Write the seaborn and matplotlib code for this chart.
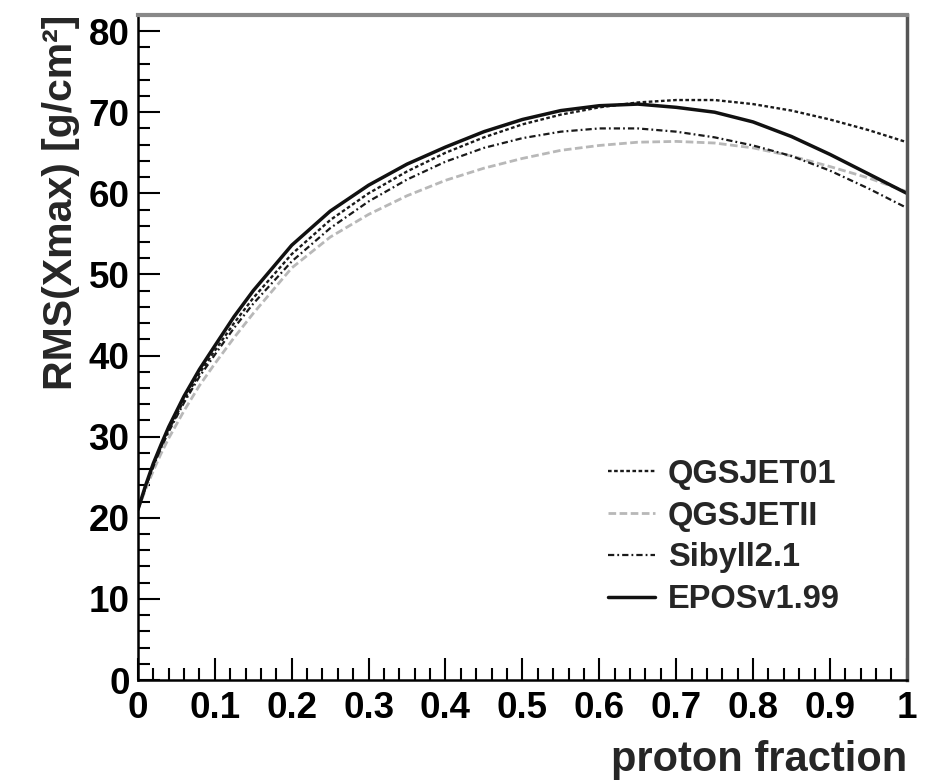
import matplotlib
matplotlib.use("Agg")
import matplotlib.pyplot as plt
import seaborn as sns
import pandas as pd
from matplotlib.ticker import MultipleLocator, FixedLocator
from matplotlib.lines import Line2D

# ---- data ----
proton_fraction = [0, 0.01, 0.02, 0.03, 0.04, 0.06, 0.08, 0.1, 0.125, 0.15, 0.2, 0.25,
                   0.3, 0.35, 0.4, 0.45, 0.5, 0.55, 0.6, 0.65, 0.7, 0.75, 0.8, 0.85,
                   0.9, 0.95, 1.0]
qgsjet01 = [21.0, 23.8, 26.4, 28.7, 30.8, 34.5, 37.8, 40.6, 44.0, 47.1, 52.5, 56.7,
            60.0, 62.7, 65.0, 66.9, 68.5, 69.7, 70.6, 71.2, 71.5, 71.5, 71.0, 70.2,
            69.1, 67.8, 66.3]
qgsjetii = [21.0, 23.5, 25.8, 27.9, 29.8, 33.2, 36.3, 39.0, 42.2, 45.2, 50.8, 54.6,
            57.4, 59.7, 61.6, 63.1, 64.3, 65.3, 65.9, 66.3, 66.4, 66.2, 65.6, 64.6,
            63.3, 61.9, 60.2]
sibyll = [21.0, 23.8, 26.3, 28.6, 30.6, 34.2, 37.4, 40.1, 43.4, 46.4, 51.6, 55.7,
          59.0, 61.7, 63.9, 65.6, 66.8, 67.6, 68.0, 68.0, 67.6, 66.9, 65.9, 64.6,
          62.8, 60.6, 58.2]
epos = [21.0, 24.0, 26.7, 29.0, 31.2, 35.0, 38.3, 41.2, 44.8, 48.0, 53.6, 57.8,
        61.0, 63.6, 65.7, 67.6, 69.1, 70.2, 70.8, 71.0, 70.6, 70.0, 68.8, 67.0,
        64.8, 62.4, 60.0]
models = ["QGSJET01", "QGSJETII", "Sibyll2.1", "EPOSv1.99"]
series = [qgsjet01, qgsjetii, sibyll, epos]
x_ticks = [0, 0.1, 0.2, 0.3, 0.4, 0.5, 0.6, 0.7, 0.8, 0.9, 1]
x_tick_labels = ["0", "0.1", "0.2", "0.3", "0.4", "0.5", "0.6", "0.7", "0.8", "0.9", "1"]
y_ticks = [0, 10, 20, 30, 40, 50, 60, 70, 80]

rows = []
for name, vals in zip(models, series):
    for xv, yv in zip(proton_fraction, vals):
        rows.append({"proton fraction": xv, "rms": yv, "model": name})
df = pd.DataFrame(rows)

# ---- style ----
sns.set_theme(style="white")
plt.rcParams["font.family"] = ["Liberation Sans", "DejaVu Sans"]
plt.rcParams["font.weight"] = "bold"
plt.rcParams["lines.scale_dashes"] = False

colors = {"QGSJET01": "#1a1a1a", "QGSJETII": "#b8b8b8",
          "Sibyll2.1": "#1a1a1a", "EPOSv1.99": "#111111"}
widths = {"QGSJET01": 1.7, "QGSJETII": 2.0, "Sibyll2.1": 1.6, "EPOSv1.99": 2.5}
dashes = {"QGSJET01": (2.6, 1.8), "QGSJETII": (5.5, 2.5),
          "Sibyll2.1": (4.5, 2.2, 1.3, 2.2), "EPOSv1.99": ""}

fig = plt.figure(figsize=(9.32, 7.82), dpi=100)
ax = fig.add_axes([0.148, 0.1304, 0.825, 0.8506])

handles = []
for name in models:
    sub = df[df["model"] == name]
    sns.lineplot(data=sub, x="proton fraction", y="rms", ax=ax,
                 color=colors[name], linewidth=widths[name], legend=False,
                 estimator=None, sort=False)
    ln = ax.get_lines()[-1]
    if dashes[name]:
        ln.set_dashes(dashes[name])
    h = Line2D([], [], color=colors[name], linewidth=widths[name])
    if dashes[name]:
        h.set_dashes(dashes[name])
    handles.append(h)

ax.set_xlim(0, 1)
ax.set_ylim(0, 82)
ax.xaxis.set_major_locator(FixedLocator(x_ticks))
ax.set_xticklabels(x_tick_labels)
ax.yaxis.set_major_locator(FixedLocator(y_ticks))
ax.xaxis.set_minor_locator(MultipleLocator(0.02))
ax.yaxis.set_minor_locator(MultipleLocator(2))
ax.tick_params(which="both", direction="in", bottom=True, left=True,
               top=False, right=False, colors="black", width=1.5)
ax.tick_params(which="major", length=16, labelsize=26.5)
ax.tick_params(which="minor", length=8.5)
ax.tick_params(axis="x", which="major", pad=8)
ax.tick_params(axis="y", which="major", pad=6)
for lab in ax.get_xticklabels() + ax.get_yticklabels():
    lab.set_fontweight("bold")

for side in ["left", "bottom"]:
    ax.spines[side].set_color("black")
    ax.spines[side].set_linewidth(1.8)
ax.spines["top"].set_color("#888888")
ax.spines["top"].set_linewidth(3)
ax.spines["right"].set_color("#555555")
ax.spines["right"].set_linewidth(2.5)

ax.set_xlabel("proton fraction", fontsize=30, fontweight="bold", loc="right", labelpad=10)
ax.set_ylabel("RMS(Xmax) [g/cm²]", fontsize=29.5, fontweight="bold", loc="top", labelpad=6)

leg = ax.legend(handles, models, loc="upper left", bbox_to_anchor=(0.59, 0.357),
                frameon=False, fontsize=23.5, handlelength=1.45, handletextpad=0.38,
                labelspacing=0.33, borderpad=0)
for t in leg.get_texts():
    t.set_fontweight("bold")

fig.savefig("out.png", dpi=100, facecolor="white")
